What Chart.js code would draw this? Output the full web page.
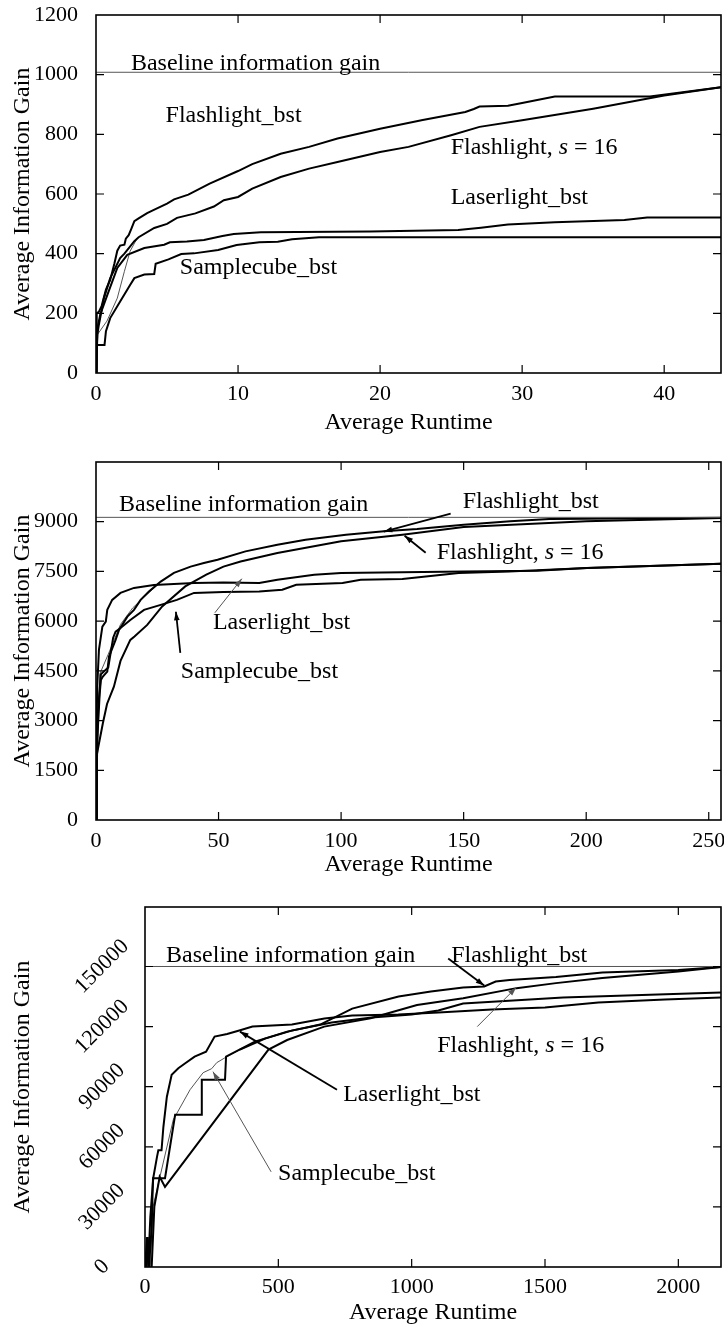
<!DOCTYPE html>
<html>
<head>
<meta charset="utf-8">
<title>Average Information Gain vs Average Runtime</title>
<script src="https://cdn.jsdelivr.net/npm/chart.js@4.4.1/dist/chart.umd.min.js"></script>
<style>
  body { margin: 0; background: #fff; }
  canvas { position: absolute; left: 0; }
</style>
</head>
<body>
<canvas id="gain1" width="724" height="440" style="top:0px;width:724px;height:440px"></canvas>
<canvas id="gain2" width="724" height="440" style="top:440px;width:724px;height:440px"></canvas>
<canvas id="gain3" width="724" height="452" style="top:880px;width:724px;height:452px"></canvas>
<script>
// all series are [runtime, information gain] pairs

// --- panel 1 ---
const runMax1 = 44;
const gainMax1 = 1200;
const runTicks1 = [0, 10, 20, 30, 40];
const gainTicks1 = [0, 200, 400, 600, 800, 1000, 1200];
const baseline1 = 1008;
const flashBst1 = [[0,0],[0.05,200],[0.2,205],[0.4,225],[0.7,280],[1.0,312],[1.3,368],[1.5,410],[1.7,427],[2.0,430],[2.1,450],[2.3,462],[2.5,485],[2.7,509],[3.0,518],[3.6,536],[4.0,545],[5.0,568],[5.5,582],[6.5,598],[8.0,635],[10,677],[11,700],[13,735],[15,758],[17,786],[20,819],[23,848],[26,875],[26.6,885],[27,893],[29,896],[30,905],[32.3,927],[39,927],[44,958]];
const flashS16_1 = [[0,0],[0.1,130],[0.2,161],[0.56,251],[1.0,318],[1.7,385],[2.0,400],[2.7,442],[3.0,455],[4.1,486],[5.0,500],[5.7,520],[7,535],[8.3,558],[9,579],[10,590],[11,618],[13,657],[15,685],[17,707],[20,741],[22,758],[25,797],[27,825],[30,847],[35,886],[40,930],[44,958]];
const laser1 = [[0,0],[0.1,150],[0.3,196],[0.8,262],[1.5,352],[2.2,396],[3.4,419],[4.8,430],[5.2,438],[6.4,441],[7.6,446],[8.9,459],[9.7,466],[11.6,472],[19.3,474],[25.5,479],[27.1,487],[29,498],[32.3,505],[37.2,513],[38.8,521],[44,521]];
const sample1 = [[0,0],[0.05,94],[0.6,94],[0.7,140],[1.0,184],[1.7,240],[2.4,295],[2.7,318],[3.4,330],[4.1,332],[4.2,366],[5.1,381],[6.0,399],[6.9,401],[8.6,412],[9.9,429],[11.5,438],[12.8,440],[13.8,448],[15.7,455],[44,455]];
const thin1 = [[0.07,127],[0.77,174],[1.5,251],[2.0,341],[2.4,408],[2.9,452]];

// --- panel 2 ---
const runMax2 = 255;
const gainMax2 = 10800;
const runTicks2 = [0, 50, 100, 150, 200, 250];
const gainTicks2 = [0, 1500, 3000, 4500, 6000, 7500, 9000];
const baseline2 = 9130;
const flashBst2 = [[0,0],[0.5,2400],[1.5,3800],[2,4225],[2.8,4330],[4.6,4476],[5.3,4929],[8,5432],[9.4,5734],[12.8,6136],[15.5,6338],[18.2,6640],[21.6,6890],[26.4,7192],[31.8,7454],[38.6,7645],[44,7752],[49.6,7852],[61,8104],[74,8305],[85.5,8456],[102,8607],[117.5,8708],[131,8778],[150,8910],[169,9010],[185,9080],[200,9090],[255,9120]];
const flashS16_2 = [[0,0],[0.4,2000],[2.8,2920],[4.5,3500],[7.3,4023],[10,4800],[14,5432],[15.7,5537],[20.9,5885],[27,6443],[36.4,7047],[45,7400],[52,7645],[59,7800],[74,8053],[100,8406],[125,8607],[150,8838],[200,9010],[255,9110]];
const laser2 = [[0,0],[0.2,2626],[0.5,4023],[1.2,5130],[2.6,5834],[4,5985],[4.6,6338],[6.6,6640],[10,6851],[15.5,7001],[23.6,7092],[40,7152],[52,7162],[66.6,7148],[74,7248],[89,7399],[100,7450],[150,7500],[180,7520],[200,7600],[255,7730]];
const sample2 = [[0,0],[0.5,3000],[2,4400],[5,4600],[7,5500],[8,5683],[10,5794],[14,6036],[19.6,6338],[26.4,6489],[33,6640],[40,6850],[52,6880],[66.6,6896],[76,6946],[81.7,7097],[100.6,7148],[108,7248],[125,7268],[148,7450],[168.5,7500],[200.6,7600],[255,7730]];
const thin2 = [[0.3,1000],[1.5,4400],[5,5000],[10,5900],[15,6400],[20,6750],[26,7150]];

// --- panel 3 ---
const runMax3 = 2160;
const gainMax3 = 179700;
const runTicks3 = [0, 500, 1000, 1500, 2000];
const gainTicks3 = [0, 30000, 60000, 90000, 120000, 150000];
const baseline3 = 150000;
const laser3 = [[0,0],[8,15000],[12,0],[20,25000],[31,44500],[45,55000],[50,58300],[62,58300],[69,70000],[82,85000],[100,96000],[125,99200],[151,101700],[186,105000],[229,107500],[261,115000],[308,116300],[360,118300],[403,120000],[551,121000],[673,124000],[777,125500],[950,126000],[1100,127000],[1300,128500],[1500,129500],[1700,132000],[1950,133500],[2160,134500]];
const flashBst3 = [[0,0],[5,0],[10,15000],[15,0],[25,20000],[30,44300],[75,44300],[113,76000],[213,76000],[213,93500],[300,93500],[304,105000],[412,112500],[533,117500],[657,121000],[777,129000],[951,135000],[1072,137500],[1193,139500],[1272,140000],[1315,142500],[1367,143300],[1541,144700],[1715,147000],[2000,148300],[2160,149700]];
const flashS16_3 = [[25,0],[35,30000],[55,45000],[75,40000],[463,108500],[533,113300],[672,120000],[846,124200],[1020,130800],[1193,134200],[1393,139200],[1541,141700],[1715,144200],[2000,147500],[2160,149700]];
const sample3 = [[20,0],[30,30000],[56,45000],[106,73500],[169,88500],[218,97000],[250,99000],[269,102000],[307,105000],[356,108500],[450,114000],[550,118000],[700,122000],[850,124500],[1000,126000],[1100,128000],[1193,131500],[1568,134500],[2160,137000]];

const FONT = "'Liberation Serif', 'Times New Roman', serif";
Chart.defaults.font.family = FONT;
Chart.defaults.color = '#000';

const pts = arr => arr.map(([x, y]) => ({x, y}));
const flat = (v, xMax) => [[0, v], [xMax, v]];
const S16 = ['Flashlight, ', ['s', 'italic'], ' = 16'];

// box around the plot with inward ticks on all four sides
const frame = {
  id: 'frame',
  afterDraw(chart) {
    const {ctx, chartArea: a, scales: {x, y}} = chart;
    const tl = 8;
    ctx.save();
    ctx.strokeStyle = '#000';
    ctx.lineWidth = 1.2;
    ctx.beginPath();
    x.ticks.forEach(t => {
      const px = x.getPixelForValue(t.value);
      if (px <= a.left + 1 || px >= a.right - 1) return;
      ctx.moveTo(px, a.bottom); ctx.lineTo(px, a.bottom - tl);
      ctx.moveTo(px, a.top); ctx.lineTo(px, a.top + tl);
    });
    y.ticks.forEach(t => {
      const py = y.getPixelForValue(t.value);
      if (py <= a.top + 1 || py >= a.bottom - 1) return;
      ctx.moveTo(a.left, py); ctx.lineTo(a.left + tl, py);
      ctx.moveTo(a.right, py); ctx.lineTo(a.right - tl, py);
    });
    ctx.stroke();
    ctx.lineWidth = 1.6;
    ctx.strokeRect(a.left, a.top, a.right - a.left, a.bottom - a.top);
    ctx.restore();
  }
};

// curve names and arrows, placed in data units
const notes = {
  id: 'notes',
  afterDatasetsDraw(chart, args, opts) {
    const {ctx, scales: {x, y}} = chart;
    ctx.save();
    (opts.arrows || []).forEach(ar => {
      const x1 = x.getPixelForValue(ar.from[0]), y1 = y.getPixelForValue(ar.from[1]);
      const x2 = x.getPixelForValue(ar.to[0]), y2 = y.getPixelForValue(ar.to[1]);
      const col = ar.thin ? '#555' : '#000';
      ctx.strokeStyle = col; ctx.fillStyle = col;
      ctx.lineWidth = ar.thin ? 1 : 1.8;
      ctx.beginPath(); ctx.moveTo(x1, y1); ctx.lineTo(x2, y2); ctx.stroke();
      const ang = Math.atan2(y2 - y1, x2 - x1), L = 9, s = 0.32;
      ctx.beginPath();
      ctx.moveTo(x2, y2);
      ctx.lineTo(x2 - L * Math.cos(ang - s), y2 - L * Math.sin(ang - s));
      ctx.lineTo(x2 - L * Math.cos(ang + s), y2 - L * Math.sin(ang + s));
      ctx.closePath(); ctx.fill();
    });
    ctx.fillStyle = '#000';
    ctx.textAlign = 'left';
    ctx.textBaseline = 'middle';
    (opts.labels || []).forEach(l => {
      let px = x.getPixelForValue(l.at[0]);
      const py = y.getPixelForValue(l.at[1]);
      const parts = Array.isArray(l.text) ? l.text : [l.text];
      parts.forEach(p => {
        const [str, style] = Array.isArray(p) ? p : [p, ''];
        ctx.font = `${style} 24px ${FONT}`;
        ctx.fillText(str, px, py);
        px += ctx.measureText(str).width;
      });
    });
    ctx.restore();
  }
};

function gainChart(id, o) {
  const h = document.getElementById(id).height;
  return new Chart(document.getElementById(id), {
    type: 'scatter',
    data: {
      datasets: o.series.map(s => ({
        data: pts(s.data),
        showLine: true,
        borderColor: s.thin ? '#555' : '#000',
        borderWidth: s.thin ? 1 : 2,
        pointRadius: 0,
        tension: 0,
        segment: s.segment
      }))
    },
    options: {
      responsive: false,
      animation: false,
      devicePixelRatio: 1,
      layout: { padding: { top: o.top, right: 3, left: 0, bottom: 0 } },
      plugins: { legend: { display: false }, tooltip: { enabled: false }, notes: o.notes },
      scales: {
        x: {
          type: 'linear', min: 0, max: o.xMax,
          grid: { display: false, drawTicks: false }, border: { display: false },
          afterBuildTicks: s => { s.ticks = o.xTicks.map(v => ({ value: v })); },
          ticks: { maxRotation: 0, autoSkip: false, padding: o.xPad, font: { size: 22 }, callback: v => String(v) },
          title: { display: true, text: 'Average Runtime', font: { size: 24 }, padding: { top: 0, bottom: o.xTitlePad } },
          afterFit: s => { s.height = h - o.bottom; s.paddingLeft = 0; s.paddingRight = 0; }
        },
        y: {
          type: 'linear', min: 0, max: o.yMax,
          grid: { display: false, drawTicks: false }, border: { display: false },
          afterBuildTicks: s => { s.ticks = o.yTicks.map(v => ({ value: v })); },
          ticks: Object.assign({ autoSkip: false, padding: 18, font: { size: 22 }, callback: v => String(v) }, o.yTickOpts || {}),
          title: { display: true, text: 'Average Information Gain', font: { size: 24 }, padding: { top: 8, bottom: 0 } },
          afterFit: s => { s.width = o.left; s.paddingTop = 0; s.paddingBottom = 0; }
        }
      }
    },
    plugins: [frame, notes]
  });
}

gainChart('gain1', {
  left: 96, top: 15, bottom: 373, xMax: runMax1, yMax: gainMax1, xTicks: runTicks1, yTicks: gainTicks1, xPad: 8, xTitlePad: 3,
  series: [
    { data: flat(baseline1, runMax1), thin: true },
    { data: flashBst1 }, { data: flashS16_1 }, { data: laser1 }, { data: sample1 },
    { data: thin1, thin: true }
  ],
  notes: {
    labels: [
      { text: 'Baseline information gain', at: [2.46, 1038] },
      { text: 'Flashlight_bst', at: [4.9, 864] },
      { text: S16, at: [24.97, 754] },
      { text: 'Laserlight_bst', at: [24.97, 587] },
      { text: 'Samplecube_bst', at: [5.9, 352] }
    ]
  }
});

gainChart('gain2', {
  left: 96, top: 22, bottom: 380, xMax: runMax2, yMax: gainMax2, xTicks: runTicks2, yTicks: gainTicks2, xPad: 8, xTitlePad: 1,
  series: [
    { data: flat(baseline2, runMax2), thin: true },
    { data: flashBst2 }, { data: flashS16_2 }, { data: laser2 }, { data: sample2 },
    { data: thin2, thin: true }
  ],
  notes: {
    labels: [
      { text: 'Baseline information gain', at: [9.4, 9514] },
      { text: 'Flashlight_bst', at: [149.6, 9604] },
      { text: S16, at: [139, 8064] },
      { text: 'Laserlight_bst', at: [47.7, 5950] },
      { text: 'Samplecube_bst', at: [34.6, 4470] }
    ],
    arrows: [
      { from: [144.7, 9242], to: [117.4, 8698] },
      { from: [134.5, 8064], to: [125.9, 8577] },
      { from: [48.5, 6252], to: [59.5, 7279], thin: true },
      { from: [34.4, 5044], to: [32.6, 6282] }
    ]
  }
});

gainChart('gain3', {
  left: 145, top: 27, bottom: 387, xMax: runMax3, yMax: gainMax3, xTicks: runTicks3, yTicks: gainTicks3, xPad: 7, xTitlePad: 5,
  yTickOpts: { minRotation: 45, maxRotation: 45, crossAlign: 'center', padding: 10 },
  series: [
    { data: flat(baseline3, runMax3), thin: true },
    { data: laser3 }, { data: flashBst3 }, { data: flashS16_3 },
    { data: sample3, segment: {
        borderWidth: c => c.p0.parsed.x < 356 ? 1 : 2,
        borderColor: c => c.p0.parsed.x < 356 ? '#555' : '#000' } }
  ],
  notes: {
    labels: [
      { text: 'Baseline information gain', at: [79, 155500] },
      { text: 'Flashlight_bst', at: [1148, 155500] },
      { text: S16, at: [1096, 110500] },
      { text: 'Laserlight_bst', at: [743, 86000] },
      { text: 'Samplecube_bst', at: [499, 46500] }
    ],
    arrows: [
      { from: [1137, 154000], to: [1272, 140500] },
      { from: [1246, 120000], to: [1392, 139500], thin: true },
      { from: [720, 88500], to: [356, 117500] },
      { from: [473, 47500], to: [255, 97500], thin: true }
    ]
  }
});
</script>
</body>
</html>
